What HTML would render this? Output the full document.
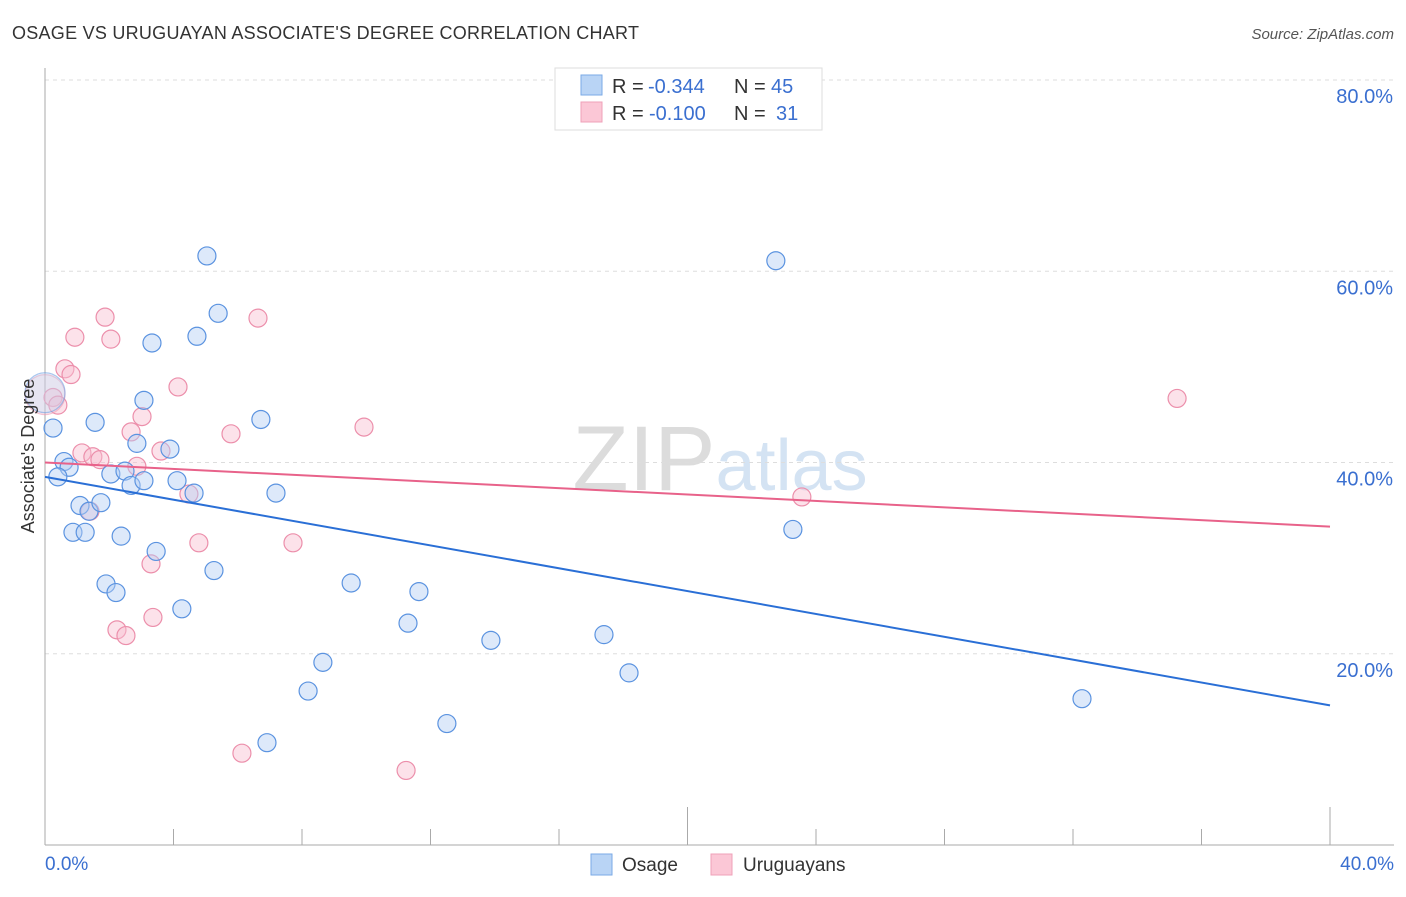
<!DOCTYPE html>
<html><head><meta charset="utf-8">
<style>
body{margin:0;background:#fff;font-family:"Liberation Sans",sans-serif;}
svg text{font-family:"Liberation Sans",sans-serif;}
</style></head>
<body>
<svg id="chart" width="1406" height="892" xmlns="http://www.w3.org/2000/svg">
<text x="12" y="39" font-size="18" fill="#333" textLength="627">OSAGE VS URUGUAYAN ASSOCIATE'S DEGREE CORRELATION CHART</text>
<text x="1394" y="39" font-size="15" fill="#555" text-anchor="end" font-style="italic">Source: ZipAtlas.com</text>
<text x="720" y="490" font-size="92" fill="#e6e6e6" text-anchor="middle" font-family="Liberation Serif"><tspan fill="#dcdcdc">ZIP</tspan><tspan fill="#d4e3f3" font-family="Liberation Sans" font-size="72">atlas</tspan></text>
<g id="grid"></g>
<g id="axes"></g>
<g id="pts"></g>
<g id="lines"></g>
<text transform="translate(34,456) rotate(-90)" font-size="18" fill="#333" text-anchor="middle">Associate's Degree</text>
<g>
<rect x="555" y="68" width="267" height="62" fill="#fff" stroke="#ddd"/>
<rect x="581" y="75" width="21" height="20" fill="#b9d4f5" stroke="#7aaae6"/>
<rect x="581" y="102" width="21" height="20" fill="#fbc7d6" stroke="#efa0b8"/>
<text x="612" y="93" font-size="20" fill="#333">R =</text>
<text x="648" y="93" font-size="20" fill="#3a6fd0">-0.344</text>
<text x="734" y="93" font-size="20" fill="#333">N =</text>
<text x="771" y="93" font-size="20" fill="#3a6fd0">45</text>
<text x="612" y="120" font-size="20" fill="#333">R =</text>
<text x="649" y="120" font-size="20" fill="#3a6fd0">-0.100</text>
<text x="734" y="120" font-size="20" fill="#333">N =</text>
<text x="776" y="120" font-size="20" fill="#3a6fd0">31</text>
</g>
<g>
<rect x="591" y="854" width="21" height="21" fill="#b9d4f5" stroke="#7aaae6"/>
<text x="622" y="871" font-size="19" fill="#333">Osage</text>
<rect x="711" y="854" width="21" height="21" fill="#fbc7d6" stroke="#efa0b8"/>
<text x="743" y="871" font-size="19" fill="#333">Uruguayans</text>
</g>
</svg>
<script>
const osageX=[5.04,22.75,5.39,4.73,3.33,3.08,1.56,6.72,0.25,2.86,3.89,0.59,0.75,0.40,2.05,2.49,2.68,3.08,4.11,4.64,7.19,1.09,1.37,1.74,0.87,1.25,2.37,3.46,23.28,1.90,2.21,5.26,9.53,11.64,4.26,11.30,13.88,17.40,18.18,8.65,8.19,32.28,12.51,6.91,0];
const osageY=[61.6,61.1,55.6,53.2,52.5,46.5,44.2,44.5,43.6,42.0,41.4,40.1,39.5,38.5,38.8,39.1,37.6,38.1,38.1,36.8,36.8,35.5,34.9,35.8,32.7,32.7,32.3,30.7,33.0,27.3,26.4,28.7,27.4,26.5,24.7,23.2,21.4,22.0,18.0,19.1,16.1,15.3,12.7,10.7,47.3];
const uruX=[1.87,6.63,2.05,0.93,0.62,0.81,4.14,0.25,0.40,3.02,9.93,2.68,5.79,3.61,1.15,1.49,1.71,2.86,4.48,23.56,1.40,4.79,7.72,3.30,3.36,2.24,2.52,6.13,11.24,35.24,0];
const uruY=[55.2,55.1,52.9,53.1,49.8,49.2,47.9,46.8,46.0,44.8,43.7,43.2,43.0,41.2,41.0,40.6,40.3,39.6,36.7,36.4,34.9,31.6,31.6,29.4,23.8,22.5,21.9,9.6,7.8,46.7,47.1];
const osageTrend=[38.5,14.6];
const uruTrend=[40.0,33.3];
const yTicks=[20,40,60,80];
const yTickLabels=["20.0%","40.0%","60.0%","80.0%"];
const xTickVals=[0,4,8,12,16,20,24,28,32,36,40];
const xLabels=["0.0%","40.0%"];

const NS="http://www.w3.org/2000/svg";
const X0=45,X1=1330,XMAX=40,Y0=845,Y80=80;
const sx=v=>X0+v*(X1-X0)/XMAX;
const sy=v=>Y0-v*(Y0-Y80)/80;
function mk(tag,attrs,parent){const e=document.createElementNS(NS,tag);for(const k in attrs)e.setAttribute(k,attrs[k]);parent.appendChild(e);return e;}
const grid=document.getElementById('grid'),axes=document.getElementById('axes'),pts=document.getElementById('pts'),lines=document.getElementById('lines');
yTicks.forEach((t,i)=>{
  const l=mk('line',{x1:X0,x2:1394,y1:sy(t),y2:sy(t),stroke:'#ddd','stroke-dasharray':'4,4'},grid);
  
  
  const tx=mk('text',{x:1393,y:sy(t)+23,'font-size':20,fill:'#3a6fd0','text-anchor':'end'},grid);
  tx.textContent=yTickLabels[i];
  
  
});
const ya=mk('line',{x1:X0,x2:X0,y1:68,y2:Y0,stroke:'#aaa'},axes);


const xa=mk('line',{x1:X0,x2:1394,y1:Y0,y2:Y0,stroke:'#aaa'},axes);


xTickVals.forEach(v=>{
  const tall=(v===20||v===40);
  const t=mk('line',{x1:sx(v),x2:sx(v),y1:tall?807:829,y2:Y0,stroke:'#aaa'},axes);
  
  
});
const xl0=mk('text',{x:45,y:870,'font-size':19,fill:'#3a6fd0'},axes);xl0.textContent=xLabels[0];


const xl1=mk('text',{x:1394,y:870,'font-size':19,fill:'#3a6fd0','text-anchor':'end'},axes);xl1.textContent=xLabels[1];


function drawPts(xs,ys,fill,stroke,name){
  xs.forEach((x,i)=>{
    const big=(x===0);
    const c=mk('circle',{cx:sx(x),cy:sy(ys[i]),r:big?20:9,fill:fill,'fill-opacity':big?0.3:0.45,stroke:stroke,'stroke-width':1.2,'stroke-opacity':big?0.5:1},pts);
    
    
  });
}
drawPts(uruX,uruY,'#f9bfd0','#ec8fab','uruguayans-point');
drawPts(osageX,osageY,'#b3cff3','#5b93e0','osage-point');
const lb=mk('line',{x1:sx(0),y1:sy(osageTrend[0]),x2:sx(40),y2:sy(osageTrend[1]),stroke:'#2a6fd6','stroke-width':2},lines);


const lp=mk('line',{x1:sx(0),y1:sy(uruTrend[0]),x2:sx(40),y2:sy(uruTrend[1]),stroke:'#e8628a','stroke-width':2},lines);


</script>
</body></html>
